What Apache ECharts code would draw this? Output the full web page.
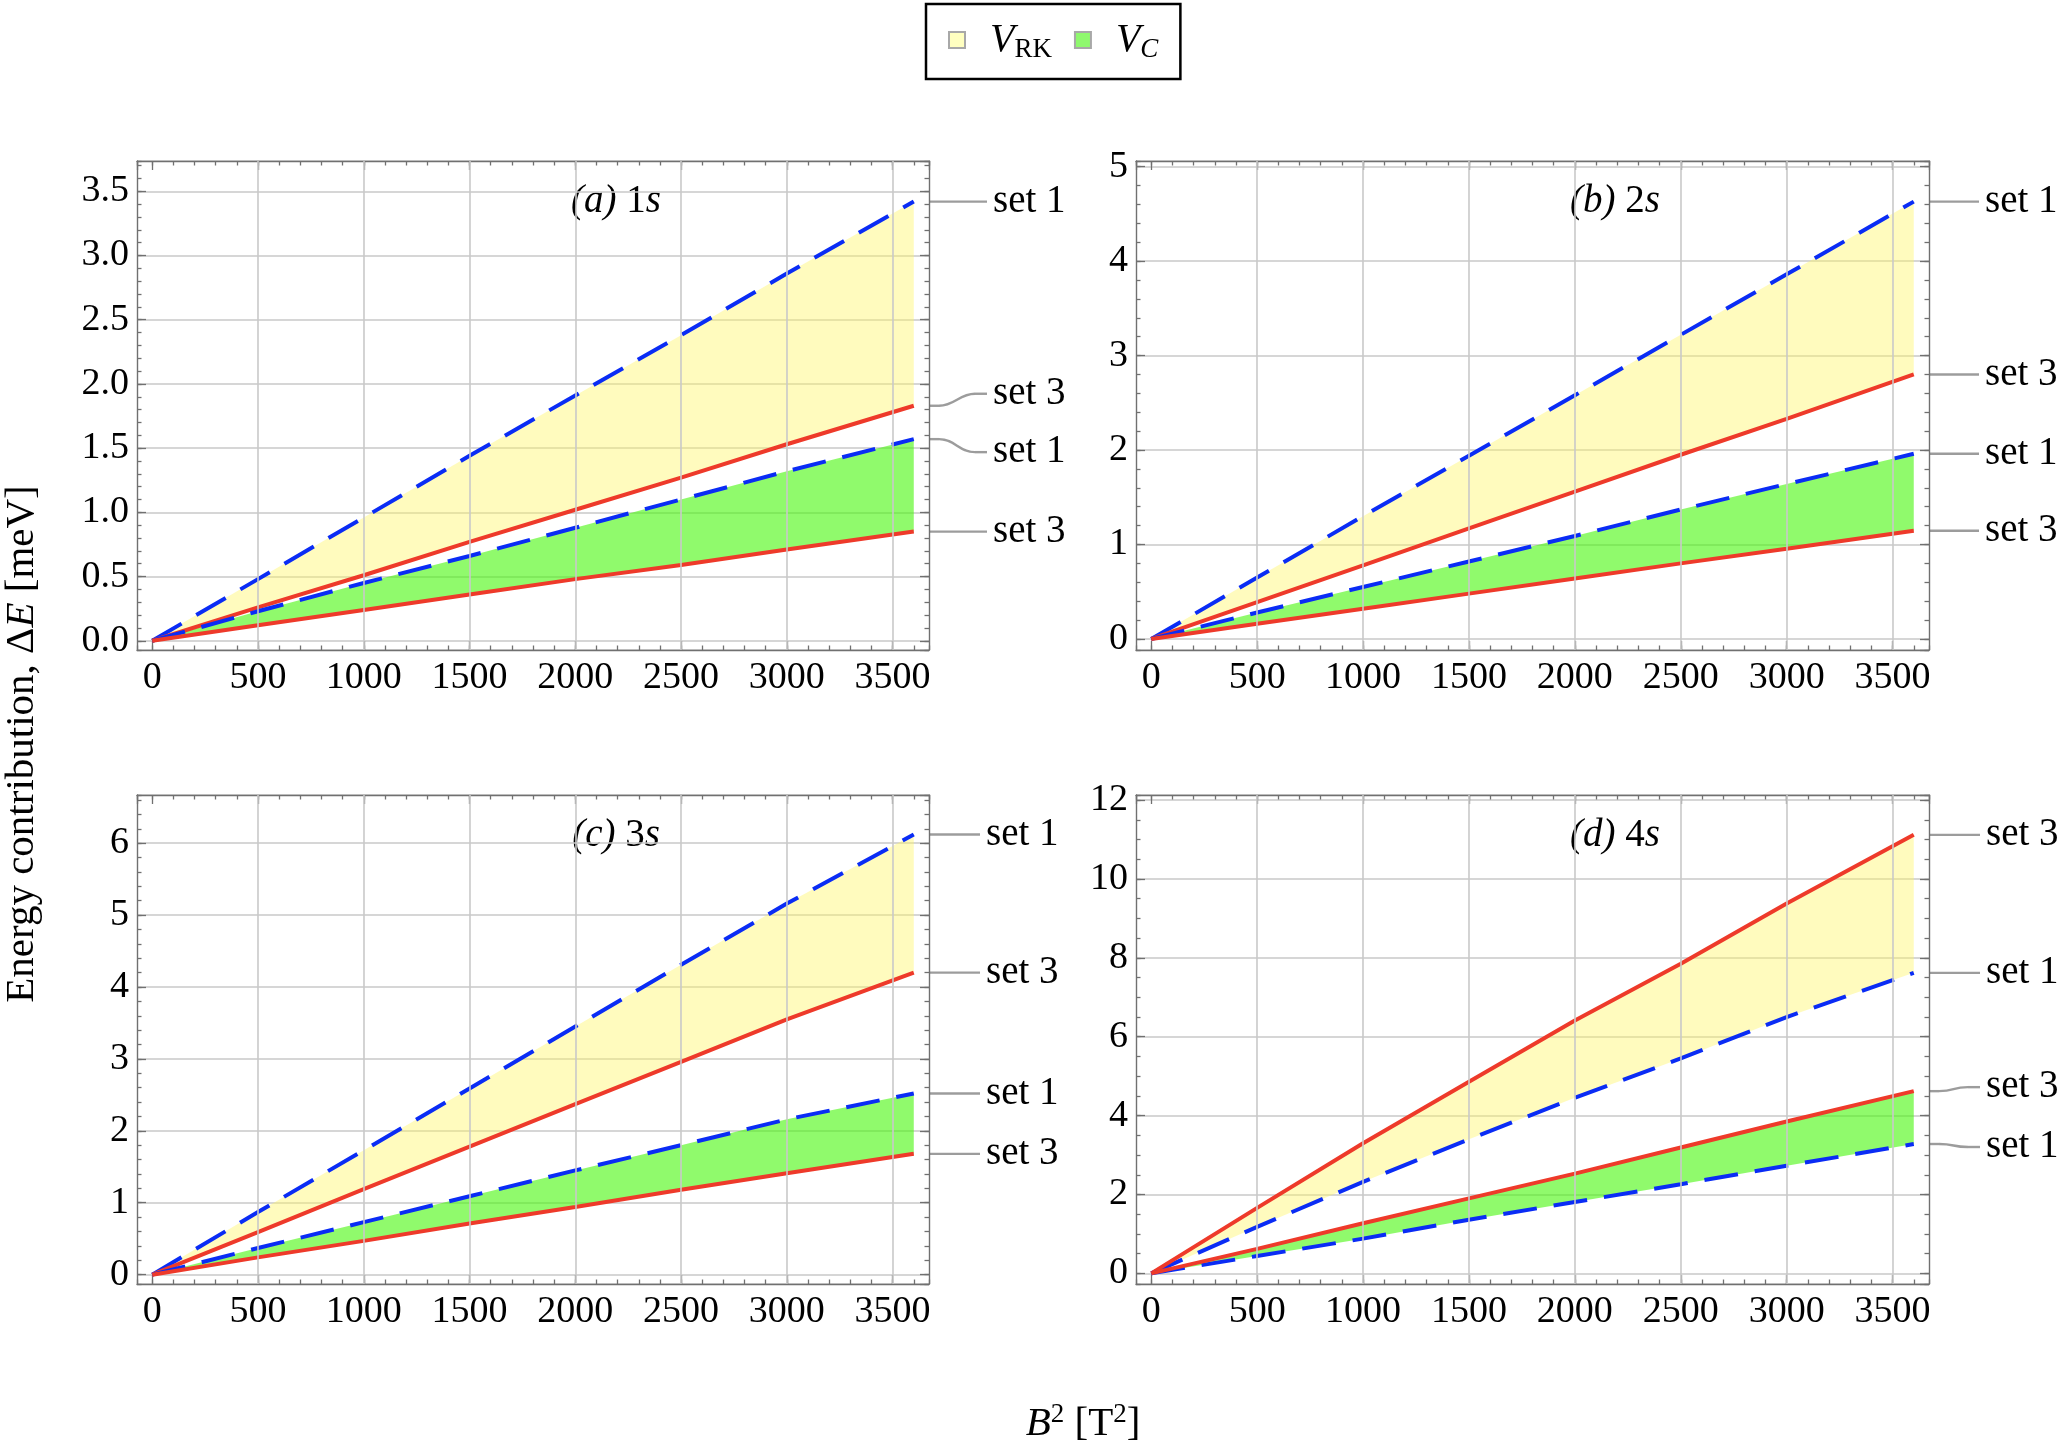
<!DOCTYPE html>
<html lang="en">
<head>
<meta charset="UTF-8">
<title>Energy contribution</title>
<script src="https://cdn.jsdelivr.net/npm/echarts@6/dist/echarts.min.js"></script>
<style>html,body{margin:0;background:#fff}#main{width:2072px;height:1444px}</style>
</head>
<body>
<div id="main"></div>
<script>
// B^2 sample points [T^2]
var bSq = [0, 500, 1000, 1500, 2000, 2500, 3000, 3600];
var gridX = [500, 1000, 1500, 2000, 2500, 3000, 3500];

// (a) 1s
var rk1A = [0, 0.48, 0.96, 1.44, 1.91, 2.38, 2.86, 3.42];
var rk3A = [0, 0.26, 0.51, 0.77, 1.02, 1.27, 1.53, 1.83];
var c1A  = [0, 0.23, 0.45, 0.66, 0.88, 1.10, 1.32, 1.57];
var c3A  = [0, 0.12, 0.24, 0.36, 0.48, 0.59, 0.71, 0.85];
// (b) 2s
var rk1B = [0, 0.65, 1.30, 1.94, 2.58, 3.22, 3.86, 4.63];
var rk3B = [0, 0.39, 0.78, 1.17, 1.56, 1.95, 2.33, 2.80];
var c1B  = [0, 0.28, 0.55, 0.82, 1.09, 1.37, 1.64, 1.96];
var c3B  = [0, 0.16, 0.32, 0.48, 0.64, 0.80, 0.955, 1.145];
// (c) 3s
var rk1C = [0, 0.87, 1.73, 2.59, 3.45, 4.31, 5.16, 6.12];
var rk3C = [0, 0.59, 1.19, 1.78, 2.37, 2.96, 3.55, 4.20];
var c1C  = [0, 0.37, 0.73, 1.09, 1.45, 1.80, 2.16, 2.52];
var c3C  = [0, 0.24, 0.47, 0.71, 0.94, 1.18, 1.41, 1.68];
// (d) 4s
var rk1D = [0, 1.18, 2.32, 3.40, 4.45, 5.45, 6.50, 7.62];
var rk3D = [0, 1.66, 3.30, 4.86, 6.41, 7.85, 9.38, 11.12];
var c1D  = [0, 0.44, 0.88, 1.36, 1.81, 2.26, 2.73, 3.28];
var c3D  = [0, 0.62, 1.27, 1.90, 2.53, 3.19, 3.85, 4.62];

var panelTags = ['(a)', '(b)', '(c)', '(d)'];
var panelLevels = ['1', '2', '3', '4'];
var lineNames = ['set 1', 'set 3', 'set 1', 'set 3'];

var FONT = 'Liberation Serif';
var FRAME = '#707070';
var GRIDC = '#c9c9c9';
var TXT = 39;

var panels = [
    {grid: {left: 137, top: 161, width: 792, height: 489}, y: [-0.072, 3.736, 0.5, 0.1], fmt: 1,
     lines: [rk1A, rk3A, c1A, c3A], dy: [0, -12, 13, 0], lead: 58},
    {grid: {left: 1136, top: 161, width: 793, height: 489}, y: [-0.117, 5.06, 1, 0.2], fmt: 0,
     lines: [rk1B, rk3B, c1B, c3B], dy: [0, 0, 0, 0], lead: 50},
    {grid: {left: 137, top: 795, width: 792, height: 489}, y: [-0.13, 6.67, 1, 0.2], fmt: 0,
     lines: [rk1C, rk3C, c1C, c3C], dy: [0, 0, 0, 0], lead: 51},
    {grid: {left: 1136, top: 795, width: 793, height: 489}, y: [-0.27, 12.13, 2, 0.5], fmt: 0,
     lines: [rk1D, rk3D, c1D, c3D], dy: [0, 0, 3, -4], lead: 51}
];

function pairs(ys) {
    return bSq.map(function (x, k) { return [x, ys[k]]; });
}

function makeAxis(dim, gi, pos, lo, hi, step, major, labels, fmt) {
    var ax = {
        type: 'value', gridIndex: gi, position: pos,
        min: lo, max: hi, minInterval: step, maxInterval: step,
        splitNumber: Math.round((hi - lo) / step),
        axisLine: {show: major, onZero: false, lineStyle: {color: FRAME, width: 1.4}},
        axisTick: {show: true, inside: true, length: major ? 9 : 4.5, lineStyle: {color: FRAME, width: 1.3}},
        axisLabel: {show: labels, showMinLabel: false, showMaxLabel: false,
            fontFamily: FONT, fontSize: 38, color: '#000', margin: dim === 'x' ? 9 : 8,
            formatter: function (v) { return fmt ? v.toFixed(fmt) : String(Math.round(v)); }},
        splitLine: {show: dim === 'y' && labels, lineStyle: {color: GRIDC, width: 1.6}}
    };
    return ax;
}

var grids = [], xAxes = [], yAxes = [], series = [];
panels.forEach(function (p, gi) {
    var g = p.grid;
    grids.push({left: g.left, top: g.top, width: g.width, height: g.height, containLabel: false, outerBoundsMode: 'none'});
    xAxes.push(makeAxis('x', gi, 'bottom', -72, 3672, 500, true, true, 0));
    xAxes.push(makeAxis('x', gi, 'top', -72, 3672, 500, true, false, 0));
    xAxes.push(makeAxis('x', gi, 'bottom', -72, 3672, 100, false, false, 0));
    xAxes.push(makeAxis('x', gi, 'top', -72, 3672, 100, false, false, 0));
    yAxes.push(makeAxis('y', gi, 'left', p.y[0], p.y[1], p.y[2], true, true, p.fmt));
    yAxes.push(makeAxis('y', gi, 'right', p.y[0], p.y[1], p.y[2], true, false, p.fmt));
    yAxes.push(makeAxis('y', gi, 'left', p.y[0], p.y[1], p.y[3], false, false, p.fmt));
    yAxes.push(makeAxis('y', gi, 'right', p.y[0], p.y[1], p.y[3], false, false, p.fmt));

    var xi = 4 * gi, yi = 4 * gi;
    // vertical grid lines
    series.push({
        type: 'line', xAxisIndex: xi, yAxisIndex: yi, z: 1, data: [], silent: true,
        markLine: {silent: true, symbol: ['none', 'none'], label: {show: false}, animation: false,
            lineStyle: {color: GRIDC, width: 1.6, type: 'solid'},
            data: gridX.map(function (v) { return {xAxis: v}; })}
    });
    // filled bands
    [['VRK', p.lines[0], p.lines[1], 'rgba(255,245,100,0.42)'],
     ['VC', p.lines[2], p.lines[3], 'rgba(70,247,10,0.6)']].forEach(function (f) {
        var up = f[1], lo = f[2];
        series.push({
            type: 'custom', name: f[0], xAxisIndex: xi, yAxisIndex: yi, z: 2, silent: true,
            itemStyle: {color: f[3]},
            data: [[0, 0]],
            renderItem: function (params, api) {
                var pts = [];
                for (var k = 0; k < bSq.length; k++) pts.push(api.coord([bSq[k], up[k]]));
                for (var k2 = bSq.length - 1; k2 >= 0; k2--) pts.push(api.coord([bSq[k2], lo[k2]]));
                return {type: 'polygon', shape: {points: pts}, style: {fill: f[3]}};
            }
        });
    });
    // curves: set 1 dashed blue, set 3 solid red
    p.lines.forEach(function (ys, k) {
        var dashed = (k % 2 === 0);
        series.push({
            type: 'line', name: lineNames[k], xAxisIndex: xi, yAxisIndex: yi, z: 3,
            data: pairs(ys), showSymbol: false, silent: true,
            lineStyle: dashed ? {color: '#0a2cf5', width: 4, type: [34, 17], cap: 'butt'}
                              : {color: '#ee3a2a', width: 4}
        });
    });
});

var rich = {
    i: {fontFamily: FONT, fontStyle: 'italic', fontSize: TXT},
    n: {fontFamily: FONT, fontSize: TXT},
    xi: {fontFamily: FONT, fontStyle: 'italic', fontSize: 41, lineHeight: 46},
    xn: {fontFamily: FONT, fontSize: 41, lineHeight: 46},
    sup: {fontFamily: FONT, fontSize: 27, verticalAlign: 'top', lineHeight: 46},
    v: {fontFamily: FONT, fontStyle: 'italic', fontSize: 40, lineHeight: 46},
    sub: {fontFamily: FONT, fontSize: 27, verticalAlign: 'bottom', lineHeight: 46},
    subi: {fontFamily: FONT, fontSize: 27, fontStyle: 'italic', verticalAlign: 'bottom', lineHeight: 46},
    g: {width: 20}
};

var staticGfx = [];
panels.forEach(function (p, gi) {
    staticGfx.push({
        type: 'text', x: p.grid.left + 479, y: p.grid.top + 41, silent: true,
        style: {text: '{i|' + panelTags[gi] + '} {n|' + panelLevels[gi] + '}{i|s}', rich: rich,
            fontFamily: FONT, fontSize: TXT, fill: '#000', align: 'center', verticalAlign: 'middle'}
    });
});
staticGfx.push({
    type: 'text', x: 22, y: 744, rotation: Math.PI / 2, silent: true,
    style: {text: '{xn|Energy contribution, Δ}{xi|E}{xn| [meV]}', rich: rich, fontFamily: FONT, fontSize: 41,
        fill: '#000', align: 'center', verticalAlign: 'middle'}
});
staticGfx.push({
    type: 'text', x: 1083, y: 1424, silent: true,
    style: {text: '{xi|B}{sup|2}{xn| [T}{sup|2}{xn|]}', rich: rich, fontFamily: FONT, fontSize: 41,
        fill: '#000', align: 'center', verticalAlign: 'middle'}
});

var option = {
    animation: false,
    backgroundColor: '#fff',
    legend: {
        left: 926, top: 4, padding: [16, 22, 16, 22], itemWidth: 16, itemHeight: 16, itemGap: 22,
        borderColor: '#000', borderWidth: 2.5, selectedMode: false,
        data: [
            {name: 'VRK', icon: 'rect', itemStyle: {color: '#ffffc0', borderColor: '#a8a8a8', borderWidth: 2}},
            {name: 'VC', icon: 'rect', itemStyle: {color: '#8ff86e', borderColor: '#a8a8a8', borderWidth: 2}}
        ],
        formatter: function (name) {
            return name === 'VRK' ? '{g| }{v|V}{sub|RK}' : '{g| }{v|V}{subi|C}';
        },
        textStyle: {color: '#000', fontFamily: FONT, fontSize: 40, rich: rich}
    },
    grid: grids,
    xAxis: xAxes,
    yAxis: yAxes,
    series: series,
    graphic: staticGfx
};

var myChart = echarts.init(document.getElementById('main'));
myChart.setOption(option);

// leader lines and "set" labels at the right end of each curve
var gfx = staticGfx.slice();
panels.forEach(function (p, gi) {
    var right = p.grid.left + p.grid.width;
    var last = bSq.length - 1;
    p.lines.forEach(function (ys, k) {
        var pt = myChart.convertToPixel({xAxisIndex: 4 * gi, yAxisIndex: 4 * gi}, [bSq[last], ys[last]]);
        var y0 = pt[1], y1 = y0 + p.dy[k], L = p.lead;
        var ls = {stroke: '#9c9c9c', lineWidth: 2.4, fill: null};
        if (p.dy[k] === 0) {
            gfx.push({type: 'line', silent: true, shape: {x1: right, y1: y0, x2: right + L, y2: y0}, style: ls});
        } else {
            gfx.push({type: 'line', silent: true, shape: {x1: right, y1: y0, x2: right + 10, y2: y0}, style: ls});
            gfx.push({type: 'bezierCurve', silent: true,
                shape: {x1: right + 10, y1: y0, x2: right + L - 12, y2: y1,
                    cpx1: right + 26, cpy1: y0, cpx2: right + L - 28, cpy2: y1}, style: ls});
            gfx.push({type: 'line', silent: true, shape: {x1: right + L - 12, y1: y1, x2: right + L, y2: y1}, style: ls});
        }
        gfx.push({type: 'text', silent: true, x: right + L + 6, y: y1,
            style: {text: lineNames[k], fontFamily: FONT, fontSize: TXT, fill: '#000',
                align: 'left', verticalAlign: 'middle'}});
    });
});
myChart.setOption({graphic: gfx});
</script>
</body>
</html>
